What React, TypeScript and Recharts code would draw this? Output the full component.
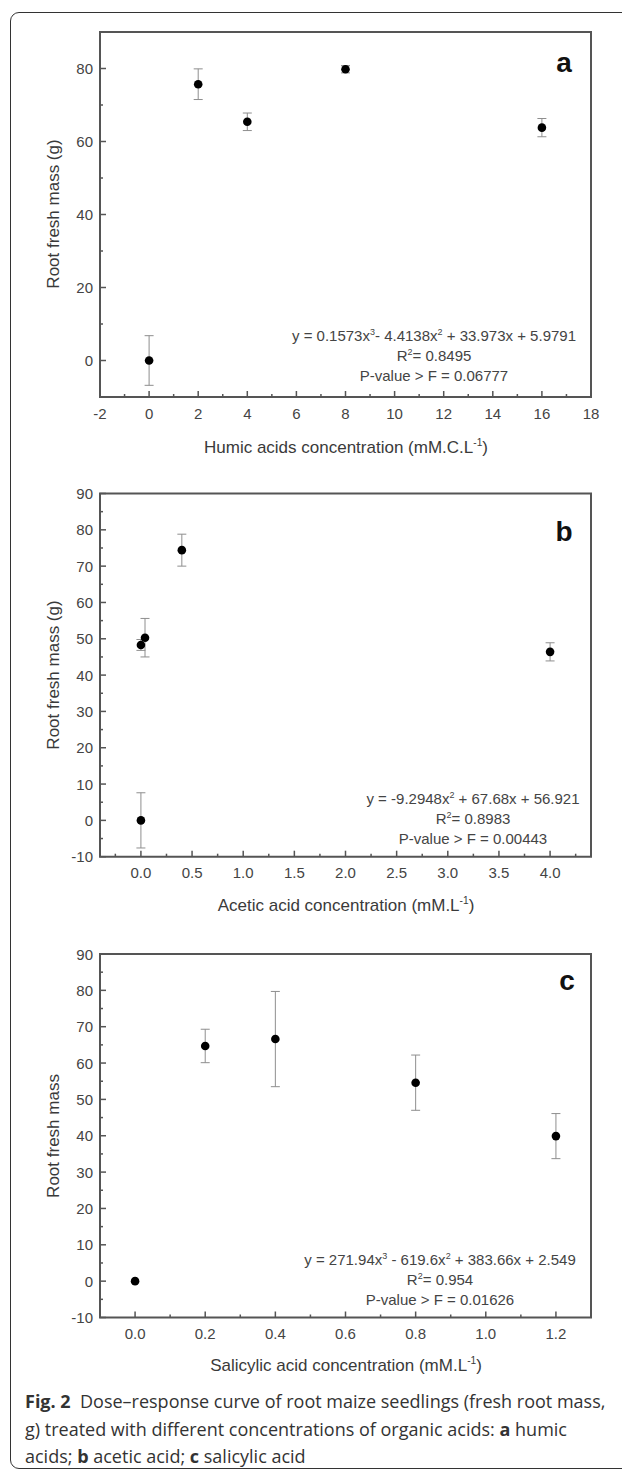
import React from "react";
import { ScatterChart, Scatter, XAxis, YAxis, ErrorBar, ReferenceArea } from "recharts";

// a: humic acids
const humicDose = [0, 2, 4, 8, 16];
const humicMass = [0, 75.7, 65.4, 79.8, 63.8];
const humicErr = [6.8, 4.2, 2.4, 1.0, 2.5];
const humicXTicks = [-2, -1, 0, 1, 2, 3, 4, 5, 6, 7, 8, 9, 10, 11, 12, 13, 14, 15, 16, 17, 18];
const humicXLabels = [-2, 0, 2, 4, 6, 8, 10, 12, 14, 16, 18];
const humicYTicks = [0, 10, 20, 30, 40, 50, 60, 70, 80];
const humicYLabels = [0, 20, 40, 60, 80];

// b: acetic acid
const aceticDose = [0, 0, 0.04, 0.4, 4];
const aceticMass = [0, 48.3, 50.3, 74.4, 46.4];
const aceticErr = [7.6, 1.5, 5.3, 4.4, 2.5];
const aceticXTicks = [-0.25, 0, 0.25, 0.5, 0.75, 1, 1.25, 1.5, 1.75, 2, 2.25, 2.5, 2.75, 3, 3.25, 3.5, 3.75, 4, 4.25];
const aceticXLabels = [0, 0.5, 1, 1.5, 2, 2.5, 3, 3.5, 4];

// c: salicylic acid
const salicylicDose = [0, 0.2, 0.4, 0.8, 1.2];
const salicylicMass = [0, 64.7, 66.6, 54.6, 39.9];
const salicylicErr = [0, 4.6, 13.1, 7.6, 6.2];
const salicylicXTicks = [0, 0.1, 0.2, 0.3, 0.4, 0.5, 0.6, 0.7, 0.8, 0.9, 1.0, 1.1, 1.2];
const salicylicXLabels = [0, 0.2, 0.4, 0.6, 0.8, 1.0, 1.2];

// shared y ticks for b and c
const massYTicks = [-10, -5, 0, 5, 10, 15, 20, 25, 30, 35, 40, 45, 50, 55, 60, 65, 70, 75, 80, 85, 90];
const massYLabels = [-10, 0, 10, 20, 30, 40, 50, 60, 70, 80, 90];

const FONT = '"Liberation Sans", Arial, Helvetica, sans-serif';
const AXIS = "#555";
const TEXT = "#444";

const isMajor = (v: number, majors: number[]) => majors.some((m) => Math.abs(m - v) < 1e-6);

function xTick(majors: number[], digits: number) {
  return (props: any) => {
    const { x, y, payload } = props;
    const major = isMajor(payload.value, majors);
    return (
      <g>
        <line x1={x} x2={x} y1={y} y2={y - (major ? 6 : 3)} stroke={AXIS} strokeWidth={1.5} />
        {major && (
          <text x={x} y={y + 16} textAnchor="middle" dominantBaseline="central" fill={TEXT} fontSize={15} fontFamily={FONT}>
            {payload.value.toFixed(digits)}
          </text>
        )}
      </g>
    );
  };
}

function yTick(majors: number[]) {
  return (props: any) => {
    const { x, y, payload } = props;
    const major = isMajor(payload.value, majors);
    return (
      <g>
        <line x1={x} x2={x + (major ? 6 : 3)} y1={y} y2={y} stroke={AXIS} strokeWidth={1.5} />
        {major && (
          <text x={x - 7} y={y} textAnchor="end" dominantBaseline="central" fill={TEXT} fontSize={15} fontFamily={FONT}>
            {payload.value}
          </text>
        )}
      </g>
    );
  };
}

const Dot = (props: any) => <circle cx={props.cx} cy={props.cy} r={4.3} fill="#000" />;

type PanelProps = {
  top: number;
  height: number;
  margin: { top: number; right: number; bottom: number; left: number };
  dose: number[];
  mass: number[];
  err: number[];
  xDomain: [number, number];
  xTicks: number[];
  xLabels: number[];
  xDigits: number;
  yTicks: number[];
  yLabels: number[];
};

function Panel(p: PanelProps) {
  const data = p.dose.map((d, i) => ({ x: d, y: p.mass[i], err: p.err[i] }));
  return (
    <div style={{ position: "absolute", left: 0, top: p.top }}>
      <ScatterChart width={622} height={p.height} margin={p.margin}>
        <XAxis
          type="number"
          dataKey="x"
          domain={p.xDomain}
          ticks={p.xTicks}
          interval={0}
          allowDataOverflow
          tickSize={0}
          tickMargin={0}
          tickLine={false}
          axisLine={false}
          height={30}
          tick={xTick(p.xLabels, p.xDigits)}
        />
        <YAxis
          type="number"
          dataKey="y"
          domain={[-10, 90]}
          ticks={p.yTicks}
          interval={0}
          allowDataOverflow
          tickSize={0}
          tickMargin={0}
          tickLine={false}
          axisLine={false}
          width={60}
          tick={yTick(p.yLabels)}
        />
        <ReferenceArea
          x1={p.xDomain[0]}
          x2={p.xDomain[1]}
          y1={-10}
          y2={90}
          fill="#fff"
          fillOpacity={0}
          stroke="#555"
          strokeWidth={2}
          ifOverflow="visible"
        />
        <Scatter data={data} isAnimationActive={false} shape={Dot}>
          <ErrorBar dataKey="err" direction="y" width={4.5} stroke="#8e8e8e" strokeWidth={1} />
        </Scatter>
      </ScatterChart>
    </div>
  );
}

const centered = (x: number, y: number, extra: React.CSSProperties = {}): React.CSSProperties => ({
  position: "absolute",
  left: x,
  top: y,
  transform: "translate(-50%, -50%)",
  whiteSpace: "nowrap",
  lineHeight: 1,
  fontFamily: FONT,
  color: TEXT,
  ...extra,
});

const sup: React.CSSProperties = { fontSize: "0.6em", verticalAlign: "0.6em" };

function Equation({ x, y, gap, eq, r2, p }: { x: number; y: number; gap: number; eq: React.ReactNode; r2: string; p: string }) {
  return (
    <>
      <div style={centered(x, y, { fontSize: 15 })}>{eq}</div>
      <div style={centered(x, y + gap, { fontSize: 15 })}>
        R<span style={sup}>2</span>= {r2}
      </div>
      <div style={centered(x, y + gap * 2, { fontSize: 15 })}>P-value &gt; F = {p}</div>
    </>
  );
}

export default function App() {
  return (
    <div style={{ position: "absolute", left: 0, top: 0, width: 622, height: 1472, background: "#fff", overflow: "hidden" }}>
      <div
        style={{
          position: "absolute",
          left: 10,
          top: 12,
          width: 640,
          height: 1457,
          border: "1px solid #333",
          borderRadius: 9,
          boxSizing: "border-box",
        }}
      />

      <Panel
        top={0}
        height={460}
        margin={{ top: 32, right: 31, bottom: 33, left: 40 }}
        dose={humicDose}
        mass={humicMass}
        err={humicErr}
        xDomain={[-2, 18]}
        xTicks={humicXTicks}
        xLabels={humicXLabels}
        xDigits={0}
        yTicks={humicYTicks}
        yLabels={humicYLabels}
      />
      <Panel
        top={460}
        height={460}
        margin={{ top: 33.5, right: 31, bottom: 33.3, left: 40 }}
        dose={aceticDose}
        mass={aceticMass}
        err={aceticErr}
        xDomain={[-0.4, 4.4]}
        xTicks={aceticXTicks}
        xLabels={aceticXLabels}
        xDigits={1}
        yTicks={massYTicks}
        yLabels={massYLabels}
      />
      <Panel
        top={920}
        height={440}
        margin={{ top: 34, right: 31, bottom: 12.5, left: 40 }}
        dose={salicylicDose}
        mass={salicylicMass}
        err={salicylicErr}
        xDomain={[-0.1, 1.3]}
        xTicks={salicylicXTicks}
        xLabels={salicylicXLabels}
        xDigits={1}
        yTicks={massYTicks}
        yLabels={massYLabels}
      />

      {/* panel letters */}
      <div style={centered(564, 63, { fontSize: 28, fontWeight: 700, color: "#111" })}>a</div>
      <div style={centered(564, 532, { fontSize: 28, fontWeight: 700, color: "#111" })}>b</div>
      <div style={centered(567, 981, { fontSize: 28, fontWeight: 700, color: "#111" })}>c</div>

      {/* axis titles */}
      <div style={centered(53, 214, { fontSize: 17, color: "#3a3a3a", transform: "translate(-50%, -50%) rotate(-90deg)" })}>Root fresh mass (g)</div>
      <div style={centered(53, 675, { fontSize: 17, color: "#3a3a3a", transform: "translate(-50%, -50%) rotate(-90deg)" })}>Root fresh mass (g)</div>
      <div style={centered(53, 1136, { fontSize: 17, color: "#3a3a3a", transform: "translate(-50%, -50%) rotate(-90deg)" })}>Root fresh mass</div>

      <div style={centered(346, 447, { fontSize: 17, color: "#3a3a3a" })}>
        Humic acids concentration (mM.C.L<span style={sup}>-1</span>)
      </div>
      <div style={centered(346, 905, { fontSize: 17, color: "#3a3a3a" })}>
        Acetic acid concentration (mM.L<span style={sup}>-1</span>)
      </div>
      <div style={centered(346, 1365, { fontSize: 17, color: "#3a3a3a" })}>
        Salicylic acid concentration (mM.L<span style={sup}>-1</span>)
      </div>

      {/* fit equations */}
      <Equation
        x={434}
        y={335}
        gap={20}
        eq={
          <>
            y = 0.1573x<span style={sup}>3</span>- 4.4138x<span style={sup}>2</span> + 33.973x + 5.9791
          </>
        }
        r2="0.8495"
        p="0.06777"
      />
      <Equation
        x={473}
        y={798}
        gap={20}
        eq={
          <>
            y = -9.2948x<span style={sup}>2</span> + 67.68x + 56.921
          </>
        }
        r2="0.8983"
        p="0.00443"
      />
      <Equation
        x={440}
        y={1259}
        gap={20}
        eq={
          <>
            y = 271.94x<span style={sup}>3</span> - 619.6x<span style={sup}>2</span> + 383.66x + 2.549
          </>
        }
        r2="0.954"
        p="0.01626"
      />

      {/* caption */}
      <div style={{ position: "absolute", left: 25, top: 1388, fontFamily: '"Open Sans", "Noto Sans", sans-serif', fontSize: 18, lineHeight: "27.5px", color: "#333", whiteSpace: "nowrap" }}>
        <div>
          <b>Fig. 2</b>&nbsp; Dose–response curve of root maize seedlings (fresh root mass,
        </div>
        <div>
          g) treated with different concentrations of organic acids: <b>a</b> humic
        </div>
        <div>
          acids; <b>b</b> acetic acid; <b>c</b> salicylic acid
        </div>
      </div>
    </div>
  );
}
